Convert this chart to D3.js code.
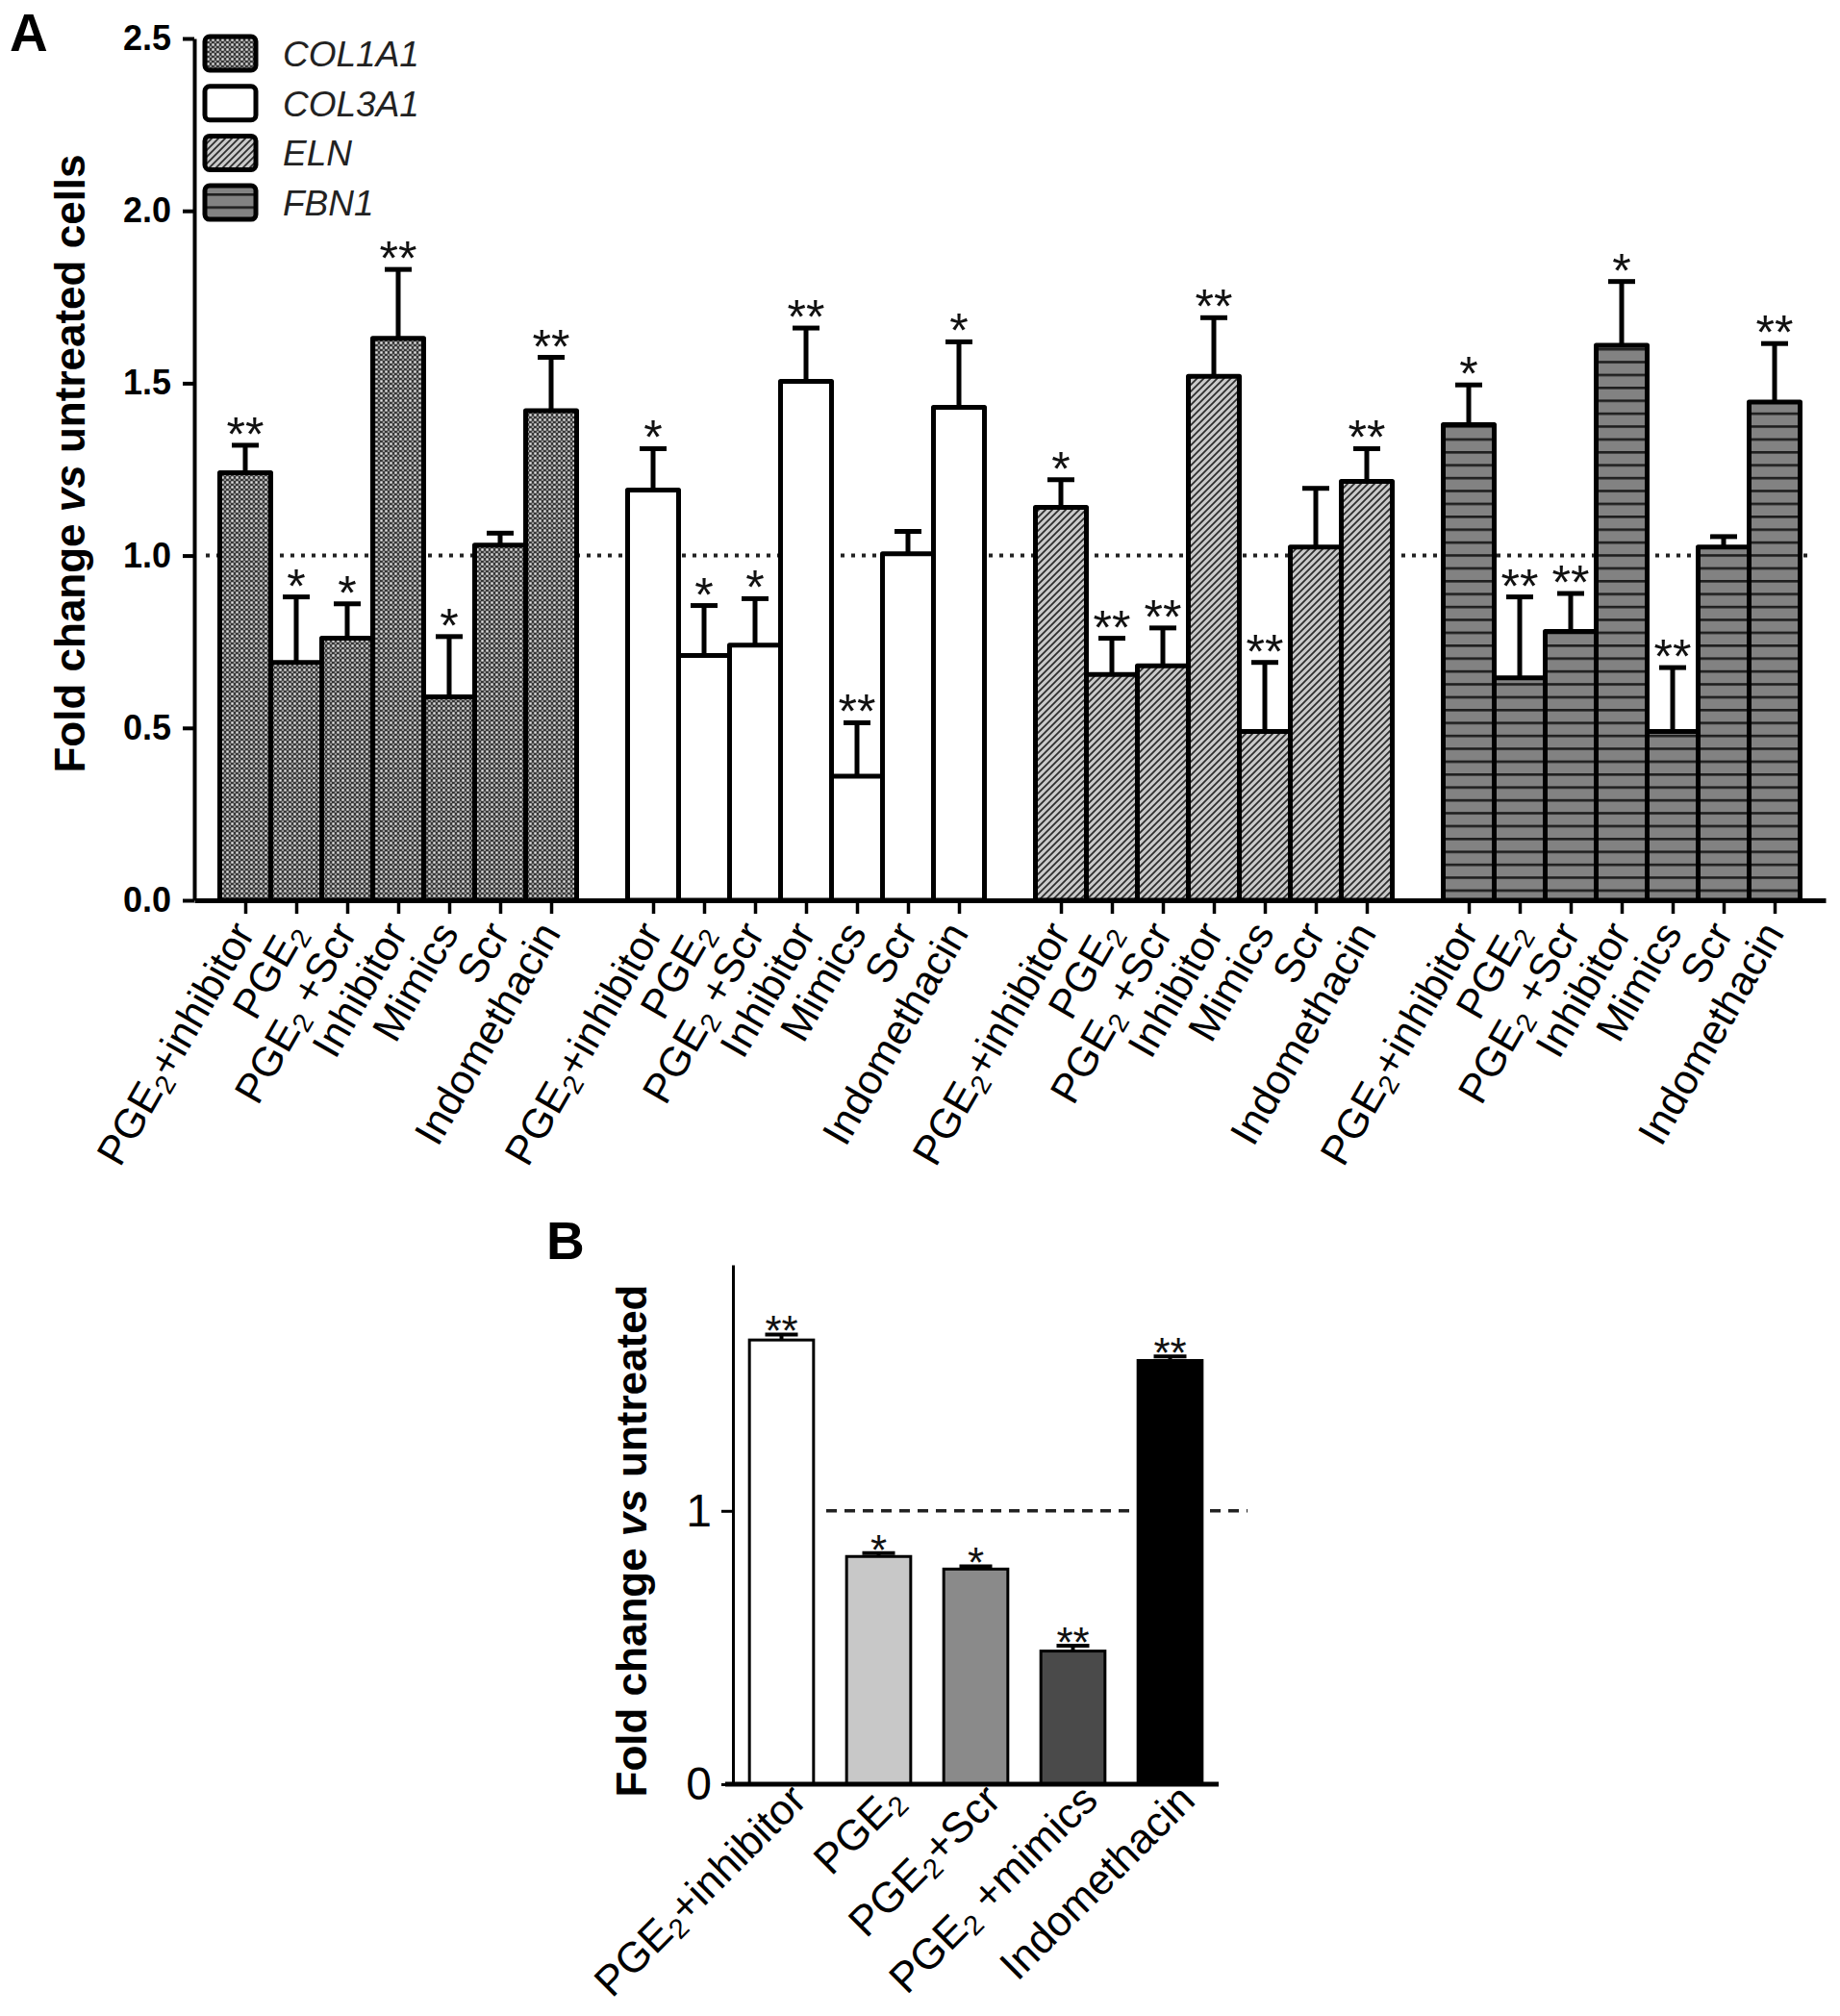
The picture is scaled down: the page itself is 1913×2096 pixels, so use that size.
<!DOCTYPE html>
<html><head><meta charset="utf-8">
<script src="https://cdn.jsdelivr.net/npm/d3@7"></script>
<style>
body{margin:0;background:#fff}
svg{display:block}
text{font-family:"Liberation Sans",Arial,Helvetica,sans-serif;white-space:pre}
</style>
</head><body>
<svg id="c" width="1913" height="2096"></svg>
<script>
// ---------- DATA (panel A) ----------
const genes = ["COL1A1", "COL3A1", "ELN", "FBN1"];
const treatmentsA = ["PGE2+inhibitor", "PGE2", "PGE2 +Scr", "Inhibitor", "Mimics", "Scr", "Indomethacin"];
const col1a1 = [1.24, 0.69, 0.76, 1.63, 0.59, 1.03, 1.42];
const col1a1Err = [0.08, 0.19, 0.10, 0.20, 0.175, 0.035, 0.155];
const col1a1Sig = ["**", "*", "*", "**", "*", "", "**"];
const col3a1 = [1.19, 0.71, 0.74, 1.505, 0.36, 1.005, 1.43];
const col3a1Err = [0.12, 0.145, 0.135, 0.155, 0.155, 0.065, 0.19];
const col3a1Sig = ["*", "*", "*", "**", "**", "", "*"];
const eln = [1.14, 0.655, 0.68, 1.52, 0.49, 1.025, 1.215];
const elnErr = [0.08, 0.105, 0.11, 0.17, 0.2, 0.17, 0.095];
const elnSig = ["*", "**", "**", "**", "**", "", "**"];
const fbn1 = [1.38, 0.645, 0.78, 1.61, 0.49, 1.025, 1.445];
const fbn1Err = [0.115, 0.235, 0.11, 0.185, 0.185, 0.03, 0.17];
const fbn1Sig = ["*", "**", "**", "*", "**", "", "**"];
const yTicksA = [0, 0.5, 1.0, 1.5, 2.0, 2.5];

// ---------- DATA (panel B) ----------
const treatmentsB = ["PGE2+inhibitor", "PGE2", "PGE2+Scr", "PGE2 +mimics", "Indomethacin"];
const valuesB = [1.625, 0.833, 0.787, 0.487, 1.55];
const errB = [0.02, 0.012, 0.01, 0.02, 0.015];
const sigB = ["**", "*", "*", "**", "**"];
const fillsB = ["#ffffff", "#c8c8c8", "#8a8a8a", "#4a4a4a", "#000000"];
const yTicksB = [0, 1];

const seriesA = [
  {gene: genes[0], values: col1a1, err: col1a1Err, sig: col1a1Sig, fill: "url(#pCol1)"},
  {gene: genes[1], values: col3a1, err: col3a1Err, sig: col3a1Sig, fill: "#ffffff"},
  {gene: genes[2], values: eln, err: elnErr, sig: elnSig, fill: "url(#pEln)"},
  {gene: genes[3], values: fbn1, err: fbn1Err, sig: fbn1Sig, fill: "url(#pFbn)"}
];

const svg = d3.select("#c");

// ---------- patterns ----------
const defs = svg.append("defs");
const p1 = defs.append("pattern").attr("id", "pCol1").attr("patternUnits", "userSpaceOnUse")
  .attr("width", 5).attr("height", 5);
p1.append("rect").attr("width", 5).attr("height", 5).attr("fill", "#363636");
p1.append("rect").attr("x", 0.3).attr("y", 0.3).attr("width", 2.4).attr("height", 2.4).attr("fill", "#e4e4e4");
p1.append("rect").attr("x", 2.8).attr("y", 2.8).attr("width", 2.2).attr("height", 2.2).attr("fill", "#949494");

const p2 = defs.append("pattern").attr("id", "pEln").attr("patternUnits", "userSpaceOnUse")
  .attr("width", 7).attr("height", 7);
p2.append("rect").attr("width", 7).attr("height", 7).attr("fill", "#cacaca");
p2.append("path").attr("d", "M-1,1 L1,-1 M0,7 L7,0 M6,8 L8,6")
  .attr("stroke", "#2e2e2e").attr("stroke-width", 1.8);

const p3 = defs.append("pattern").attr("id", "pFbn").attr("patternUnits", "userSpaceOnUse")
  .attr("width", 10).attr("height", 13.4);
p3.append("rect").attr("width", 10).attr("height", 13.4).attr("fill", "#828282");
p3.append("rect").attr("y", 0).attr("width", 10).attr("height", 2.6).attr("fill", "#1e1e1e");

// helper: label with PGE2 subscript
function writeLabel(textSel, label, fs) {
  const idx = label.indexOf("PGE2");
  if (idx < 0) { textSel.text(label); return; }
  const rest = label.slice(idx + 4);
  textSel.append("tspan").text("PGE");
  textSel.append("tspan").attr("font-size", fs * 0.66).attr("dy", fs * 0.16).text("2");
  if (rest.length) textSel.append("tspan").attr("dy", -fs * 0.16).text(rest);
}

// =============== PANEL A ===============
const xA = d3.scaleLinear().domain([0, 32]).range([202, 1898]);
const yA = d3.scaleLinear().domain([0, 2.5]).range([936, 40]);
const stepA = xA(1) - xA(0);
const gA = svg.append("g");

svg.append("text").attr("x", 10).attr("y", 53).attr("font-size", 55).attr("font-weight", "bold").text("A");

// reference dotted line
gA.append("line").attr("x1", 214).attr("x2", 1886).attr("y1", yA(1)).attr("y2", yA(1))
  .attr("stroke", "#222").attr("stroke-width", 4).attr("stroke-dasharray", "4 7");

const barsA = [];
seriesA.forEach((s, gi) => {
  s.values.forEach((v, i) => {
    barsA.push({pos: gi * 8 + i + 1, v, e: s.err[i], sig: s.sig[i], fill: s.fill, label: treatmentsA[i]});
  });
});

gA.selectAll("rect.bar").data(barsA).join("rect").attr("class", "bar")
  .attr("x", d => xA(d.pos - 0.5)).attr("width", stepA)
  .attr("y", d => yA(d.v)).attr("height", d => yA(0) - yA(d.v))
  .attr("fill", d => d.fill).attr("stroke", "#000").attr("stroke-width", 5)
  .attr("stroke-linejoin", "round");

// error bars
gA.selectAll("line.stem").data(barsA).join("line").attr("class", "stem")
  .attr("x1", d => xA(d.pos)).attr("x2", d => xA(d.pos))
  .attr("y1", d => yA(d.v)).attr("y2", d => yA(d.v + d.e))
  .attr("stroke", "#000").attr("stroke-width", 5);
gA.selectAll("line.cap").data(barsA).join("line").attr("class", "cap")
  .attr("x1", d => xA(d.pos) - 14).attr("x2", d => xA(d.pos) + 14)
  .attr("y1", d => yA(d.v + d.e)).attr("y2", d => yA(d.v + d.e))
  .attr("stroke", "#000").attr("stroke-width", 5);
gA.selectAll("text.sig").data(barsA.filter(d => d.sig)).join("text").attr("class", "sig")
  .attr("x", d => xA(d.pos)).attr("y", d => yA(d.v + d.e) + 6)
  .attr("text-anchor", "middle").attr("font-size", 50).attr("fill", "#111").text(d => d.sig);

// y axis
const yAxisA = gA.append("g").attr("transform", `translate(${xA(0)},0)`)
  .call(d3.axisLeft(yA).tickValues(yTicksA).tickFormat(d3.format(".1f")).tickSize(12).tickSizeOuter(0).tickPadding(12));
yAxisA.select(".domain").attr("stroke-width", 4);
yAxisA.selectAll(".tick line").attr("stroke-width", 4);
yAxisA.selectAll(".tick text").attr("font-size", 36).attr("font-weight", "bold")
  .attr("font-family", "'Liberation Sans',Arial,sans-serif").attr("fill", "#000");

// x axis
const xAxisA = gA.append("g").attr("transform", `translate(0,${yA(0)})`)
  .call(d3.axisBottom(xA).tickValues(barsA.map(d => d.pos)).tickFormat("").tickSize(14).tickSizeOuter(0));
xAxisA.select(".domain").attr("stroke-width", 5);
xAxisA.selectAll(".tick line").attr("stroke-width", 3.5);

// x labels
const fsA = 43;
barsA.forEach(d => {
  const t = gA.append("text")
    .attr("transform", `translate(${xA(d.pos) + 11},${970}) rotate(-60)`)
    .attr("text-anchor", "end").attr("font-size", fsA).attr("fill", "#000");
  writeLabel(t, d.label, fsA);
});

// y title
const ytA = gA.append("text").attr("transform", "translate(88,482) rotate(-90)")
  .attr("text-anchor", "middle").attr("font-size", 44).attr("font-weight", "bold");
ytA.append("tspan").text("Fold change ");
ytA.append("tspan").attr("font-style", "italic").text("vs");
ytA.append("tspan").text(" untreated cells");

// legend
const legY = [38, 89.7, 141.4, 193.1];
seriesA.forEach((s, i) => {
  gA.append("rect").attr("x", 213).attr("y", legY[i]).attr("width", 53).attr("height", 35)
    .attr("rx", 5).attr("fill", s.fill).attr("stroke", "#000").attr("stroke-width", 5);
  gA.append("text").attr("x", 294).attr("y", legY[i] + 31).attr("font-size", 37)
    .attr("font-style", "italic").attr("fill", "#222").text(s.gene);
});

// =============== PANEL B ===============
const gB = svg.append("g");
svg.append("text").attr("x", 568).attr("y", 1309).attr("font-size", 55).attr("font-weight", "bold").text("B");

const xB = d3.scaleBand().domain(treatmentsB).range([762, 1267]).paddingInner(0.34).paddingOuter(0.17);
const yB = d3.scaleLinear().domain([0, 1.9]).range([1855, 1315]);

gB.append("line").attr("x1", 859).attr("x2", 1297).attr("y1", yB(1)).attr("y2", yB(1))
  .attr("stroke", "#222").attr("stroke-width", 3.5).attr("stroke-dasharray", "11 8");

const barsB = treatmentsB.map((t, i) => ({t, v: valuesB[i], e: errB[i], sig: sigB[i], fill: fillsB[i]}));
gB.selectAll("rect.bar").data(barsB).join("rect").attr("class", "bar")
  .attr("x", d => xB(d.t)).attr("width", xB.bandwidth())
  .attr("y", d => yB(d.v)).attr("height", d => yB(0) - yB(d.v))
  .attr("fill", d => d.fill).attr("stroke", "#000").attr("stroke-width", 3);
gB.selectAll("line.cap").data(barsB).join("line").attr("class", "cap")
  .attr("x1", d => xB(d.t) + xB.bandwidth() / 2 - 17).attr("x2", d => xB(d.t) + xB.bandwidth() / 2 + 17)
  .attr("y1", d => yB(d.v + d.e)).attr("y2", d => yB(d.v + d.e))
  .attr("stroke", "#000").attr("stroke-width", 4);
gB.selectAll("line.stem").data(barsB).join("line").attr("class", "stem")
  .attr("x1", d => xB(d.t) + xB.bandwidth() / 2).attr("x2", d => xB(d.t) + xB.bandwidth() / 2)
  .attr("y1", d => yB(d.v)).attr("y2", d => yB(d.v + d.e))
  .attr("stroke", "#000").attr("stroke-width", 4);
gB.selectAll("text.sig").data(barsB).join("text").attr("class", "sig")
  .attr("x", d => xB(d.t) + xB.bandwidth() / 2).attr("y", d => yB(d.v + d.e) + 12)
  .attr("text-anchor", "middle").attr("font-size", 44).attr("fill", "#111").text(d => d.sig);

const yAxisB = gB.append("g").attr("transform", "translate(762,0)")
  .call(d3.axisLeft(yB).tickValues(yTicksB).tickFormat(d3.format("d")).tickSize(12).tickSizeOuter(0).tickPadding(10));
yAxisB.select(".domain").attr("stroke-width", 3);
yAxisB.selectAll(".tick line").attr("stroke-width", 3);
yAxisB.selectAll(".tick text").attr("font-size", 48)
  .attr("font-family", "'Liberation Sans',Arial,sans-serif").attr("fill", "#000");

gB.append("line").attr("x1", 754).attr("x2", 1267).attr("y1", yB(0)).attr("y2", yB(0))
  .attr("stroke", "#000").attr("stroke-width", 5);

const fsB = 44;
barsB.forEach(d => {
  const t = gB.append("text")
    .attr("transform", `translate(${xB(d.t) + xB.bandwidth() / 2 + 28},1874) rotate(-45)`)
    .attr("text-anchor", "end").attr("font-size", fsB).attr("fill", "#000");
  writeLabel(t, d.t, fsB);
});

const ytB = gB.append("text").attr("transform", "translate(672,1602) rotate(-90)")
  .attr("text-anchor", "middle").attr("font-size", 44).attr("font-weight", "bold");
ytB.append("tspan").text("Fold change ");
ytB.append("tspan").attr("font-style", "italic").text("vs");
ytB.append("tspan").text(" untreated");
</script>
</body></html>
